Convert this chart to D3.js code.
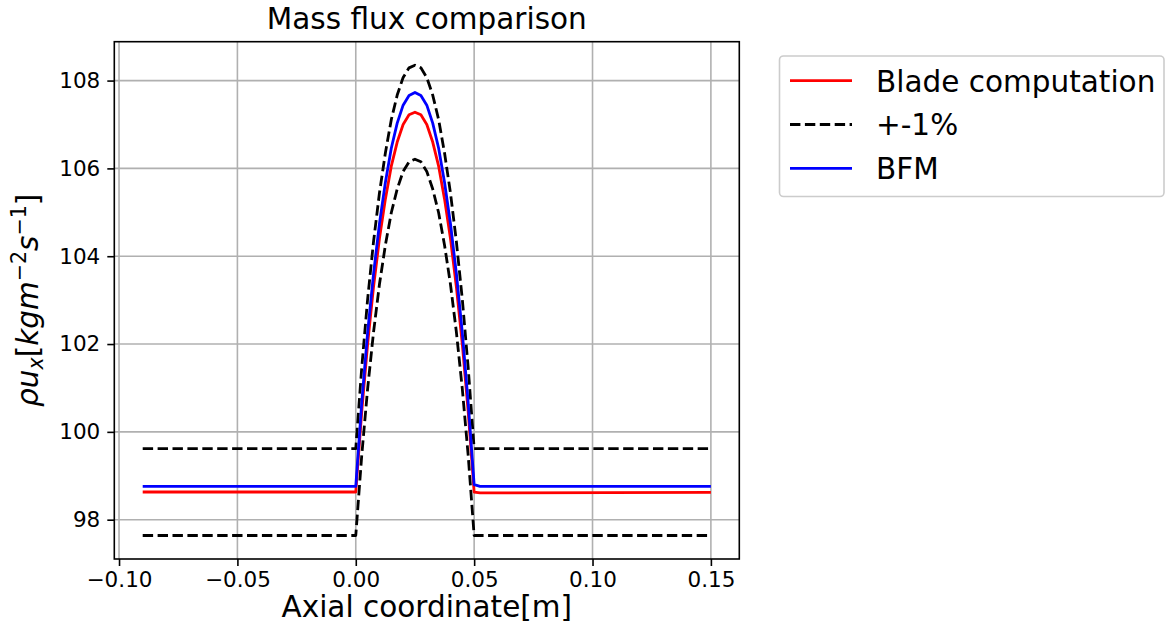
<!DOCTYPE html>
<html>
<head>
<meta charset="utf-8">
<script src="https://cdn.jsdelivr.net/npm/d3@7"></script>
<style>
  body { margin: 0; background: #fff; }
  svg { display: block; font-family: "DejaVu Sans", sans-serif; }
</style>
</head>
<body>
<svg id="drawing_region"></svg>
<script>
// axial positions [m]
const xs = [-0.09, 0, 0.0025, 0.005, 0.0075, 0.01, 0.0125, 0.015, 0.0175, 0.02, 0.0225, 0.025,
    0.0275, 0.03, 0.0325, 0.035, 0.0375, 0.04, 0.0425, 0.045, 0.0475, 0.05, 0.0525, 0.15];

// mass flux values
const blade = [98.63, 98.63, 100.45, 102.0, 103.3, 104.4, 105.3, 106.05, 106.6, 107.0, 107.22, 107.28,
    107.22, 107.0, 106.6, 106.05, 105.3, 104.4, 103.3, 102.0, 100.45, 98.63, 98.61, 98.62];
const upper = [99.62, 99.62, 101.45, 103.02, 104.33, 105.44, 106.35, 107.11, 107.67, 108.07, 108.29, 108.35,
    108.29, 108.07, 107.67, 107.11, 106.35, 105.44, 104.33, 103.02, 101.45, 99.62, 99.62, 99.62];
const lower = [97.64, 97.64, 99.45, 100.98, 102.27, 103.36, 104.25, 104.99, 105.53, 105.93, 106.15, 106.21,
    106.15, 105.93, 105.53, 104.99, 104.25, 103.36, 102.27, 100.98, 99.45, 97.64, 97.64, 97.64];
const bfm = [98.76, 98.76, 100.65, 102.26, 103.60, 104.74, 105.68, 106.46, 107.03, 107.44, 107.66, 107.73,
    107.66, 107.44, 107.03, 106.46, 105.68, 104.74, 103.60, 102.26, 100.65, 98.80, 98.76, 98.76];

const xticks = [-0.10, -0.05, 0.00, 0.05, 0.10, 0.15];
const yticks = [98, 100, 102, 104, 106, 108];

const legendLabels = ["Blade computation", "+-1%", "BFM"];

const config = {
    width: 1166,
    height: 634,
    margin: {top: 41.7, right: 426.7, bottom: 75, left: 114.3},
    title: "Mass flux comparison",
    xlabel: "Axial coordinate[m]"
};

const svg = d3.select('#drawing_region')
    .attr('width', config.width)
    .attr('height', config.height);

svg.append('rect').attr('width', config.width).attr('height', config.height).attr('fill', '#fff');

const inner_width = config.width - config.margin.left - config.margin.right;
const inner_height = config.height - config.margin.top - config.margin.bottom;

const chart = svg.append('g')
    .attr('transform', `translate(${config.margin.left}, ${config.margin.top})`);

// matplotlib-like 5% margins
const xext = d3.extent(xs);
const xpad = (xext[1] - xext[0]) * 0.05;
const yext = d3.extent(upper.concat(lower, blade, bfm));
const ypad = (yext[1] - yext[0]) * 0.05;

const xscale = d3.scaleLinear()
    .domain([xext[0] - xpad, xext[1] + xpad])
    .range([0, inner_width]);
const yscale = d3.scaleLinear()
    .domain([yext[0] - ypad, yext[1] + ypad])
    .range([inner_height, 0]);

// grid
chart.append('g').selectAll('line').data(xticks).join('line')
    .attr('x1', d => xscale(d)).attr('x2', d => xscale(d))
    .attr('y1', 0).attr('y2', inner_height)
    .attr('stroke', '#b0b0b0').attr('stroke-width', 1.6);
chart.append('g').selectAll('line').data(yticks).join('line')
    .attr('x1', 0).attr('x2', inner_width)
    .attr('y1', d => yscale(d)).attr('y2', d => yscale(d))
    .attr('stroke', '#b0b0b0').attr('stroke-width', 1.6);

// series
const series = [
    {vals: blade, color: 'red', dash: null},
    {vals: upper, color: 'black', dash: '10.4,4.5'},
    {vals: lower, color: 'black', dash: '10.4,4.5'},
    {vals: bfm, color: 'blue', dash: null}
];

const line = d3.line()
    .x(d => xscale(d[0]))
    .y(d => yscale(d[1]));

chart.append('g').selectAll('path').data(series).join('path')
    .attr('d', s => line(xs.map((x, i) => [x, s.vals[i]])))
    .attr('fill', 'none')
    .attr('stroke', s => s.color)
    .attr('stroke-width', 2.8)
    .attr('stroke-linejoin', 'round')
    .attr('stroke-dasharray', s => s.dash);

// axes
const xaxis = d3.axisBottom(xscale)
    .tickValues(xticks)
    .tickFormat(d3.format('.2f'))
    .tickSize(7)
    .tickPadding(6);
const yaxis = d3.axisLeft(yscale)
    .tickValues(yticks)
    .tickFormat(d3.format('d'))
    .tickSize(7)
    .tickPadding(7);

const xg = chart.append('g')
    .attr('transform', `translate(0, ${inner_height})`)
    .call(xaxis);
const yg = chart.append('g').call(yaxis);

[xg, yg].forEach(g => {
    g.select('.domain').remove();
    g.selectAll('.tick line').attr('stroke', '#000').attr('stroke-width', 1.6);
    g.selectAll('.tick text')
        .attr('fill', '#000')
        .attr('font-size', '21.5px')
        .attr('font-family', '"DejaVu Sans", sans-serif');
});

// frame
chart.append('rect')
    .attr('width', inner_width).attr('height', inner_height)
    .attr('fill', 'none').attr('stroke', '#000').attr('stroke-width', 1.6);

// title + labels
svg.append('text')
    .attr('x', config.margin.left + inner_width / 2)
    .attr('y', 29)
    .attr('text-anchor', 'middle')
    .attr('font-size', '29.5px')
    .text(config.title);

svg.append('text')
    .attr('x', config.margin.left + inner_width / 2)
    .attr('y', 617)
    .attr('text-anchor', 'middle')
    .attr('font-size', '29.5px')
    .text(config.xlabel);

const ylab = svg.append('text')
    .attr('transform', `translate(38, ${config.margin.top + inner_height / 2}) rotate(-90)`)
    .attr('text-anchor', 'middle')
    .attr('font-size', '29.5px');
ylab.append('tspan').attr('font-style', 'italic').text('ρu');
ylab.append('tspan').attr('font-style', 'italic').attr('font-size', '20.6px').attr('dy', 4.5).text('x');
ylab.append('tspan').attr('dy', -4.5).text('[');
ylab.append('tspan').attr('font-style', 'italic').text('kgm');
ylab.append('tspan').attr('font-size', '20.6px').attr('dy', -12).text('−2');
ylab.append('tspan').attr('font-style', 'italic').attr('dy', 12).text('s');
ylab.append('tspan').attr('font-size', '20.6px').attr('dy', -12).text('−1');
ylab.append('tspan').attr('dy', 12).text(']');

// legend
const legend = svg.append('g');
legend.append('rect')
    .attr('x', 779.5).attr('y', 56)
    .attr('width', 384.5).attr('height', 140.5)
    .attr('rx', 4)
    .attr('fill', '#fff')
    .attr('stroke', '#cccccc')
    .attr('stroke-width', 1.6);

const legendItems = legendLabels.map((l, i) => ({label: l, s: series[i === 0 ? 0 : i === 1 ? 1 : 3]}));
const rows = legend.selectAll('g.row').data(legendItems).join('g')
    .attr('class', 'row')
    .attr('transform', (d, i) => `translate(0, ${80.7 + i * 43.8})`);
rows.append('line')
    .attr('x1', 790).attr('x2', 852)
    .attr('stroke', d => d.s.color)
    .attr('stroke-width', 2.8)
    .attr('stroke-dasharray', d => d.s.dash);
rows.append('text')
    .attr('x', 876)
    .attr('y', 10.8)
    .attr('font-size', '29.5px')
    .text(d => d.label);
</script>
</body>
</html>
